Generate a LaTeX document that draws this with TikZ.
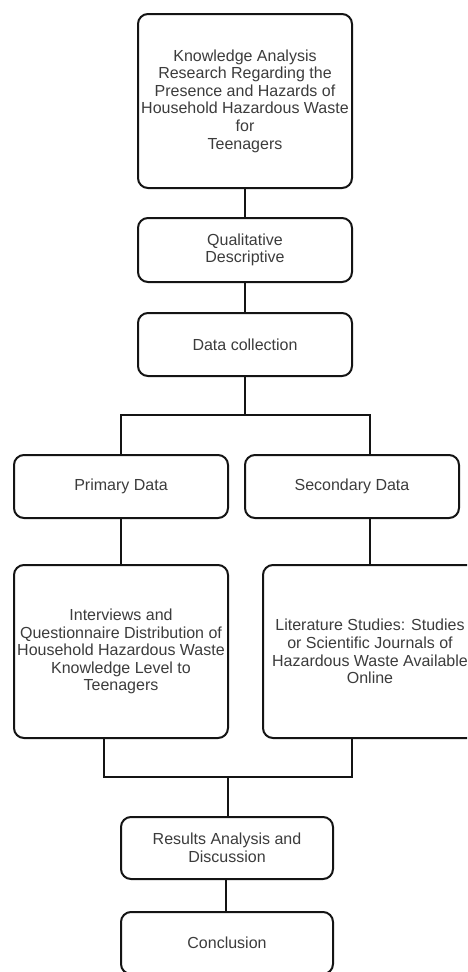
\documentclass[tikz,border=0pt]{standalone}
\usepackage{fontspec}
\setmainfont{Liberation Sans}
\definecolor{txt}{RGB}{60,60,60}
\definecolor{edge}{RGB}{20,20,20}
\begin{document}
\begin{tikzpicture}[x=1pt,y=-1pt,
  box/.style={draw=edge, line width=2pt, rounded corners=10pt, fill=white,
    inner sep=0pt, align=center, text=txt,
    font=\fontsize{16}{17.6}\selectfont},
  thin/.style={draw=edge, line width=1.3pt},
  thick/.style={draw=edge, line width=2pt}]
\clip (0,0) rectangle (467,972);
\fill[white] (0,0) rectangle (467,972);
\node[box, minimum width=214pt, minimum height=174pt] (b1) at (245,101)
  {Knowledge Analysis\\Research Regarding the\\Presence and Hazards of\\Household Hazardous Waste\\for\\Teenagers};
\node[box, minimum width=214pt, minimum height=64pt] (b2) at (245,250) {Qualitative\\Descriptive};
\node[box, minimum width=214pt, minimum height=63pt] (b3) at (245,344.5) {Data collection};
\node[box, minimum width=214pt, minimum height=63pt] (pri) at (121,486.5) {Primary Data};
\node[box, minimum width=214pt, minimum height=63pt] (sec) at (352,486.5) {Secondary Data};
\node[box, minimum width=214pt, minimum height=173pt] (int) at (121,651.5)
  {Interviews and\\Questionnaire Distribution of\\Household Hazardous Waste\\Knowledge Level to\\Teenagers};
\node[box, minimum width=214pt, minimum height=173pt] (lit) at (370,651.5)
  {Literature Studies: Studies\\or Scientific Journals of\\Hazardous Waste Available\\Online};
\node[box, minimum width=212pt, minimum height=62pt] (res) at (227,848) {Results Analysis and\\Discussion};
\node[box, minimum width=212pt, minimum height=62pt] (con) at (227,943) {Conclusion};
\coordinate (j1) at (245,415);
\coordinate (j2) at (228,777);
\draw[thin] (b1) -- (b2);
\draw[thin] (b2) -- (b3);
\draw[thick] (b3.south) -- (j1);
\draw[thick] (pri.north) -- (pri.north |- j1) -- (lit.north |- j1) -- (lit.north |- sec.north);
\draw[thin] (pri.south) -- (int.north);
\draw[thin] (lit.north |- sec.south) -- (lit.north);
\draw[thick] ([xshift=-17pt]int.south) -- ([xshift=-17pt]int.south |- j2) -- ([xshift=-18pt]lit.south |- j2) -- ([xshift=-18pt]lit.south);
\draw[thick] (j2) -- (j2 |- res.north);
\draw[thin] ([xshift=-1pt]res.south) -- ([xshift=-1pt]con.north);
\end{tikzpicture}
\end{document}
